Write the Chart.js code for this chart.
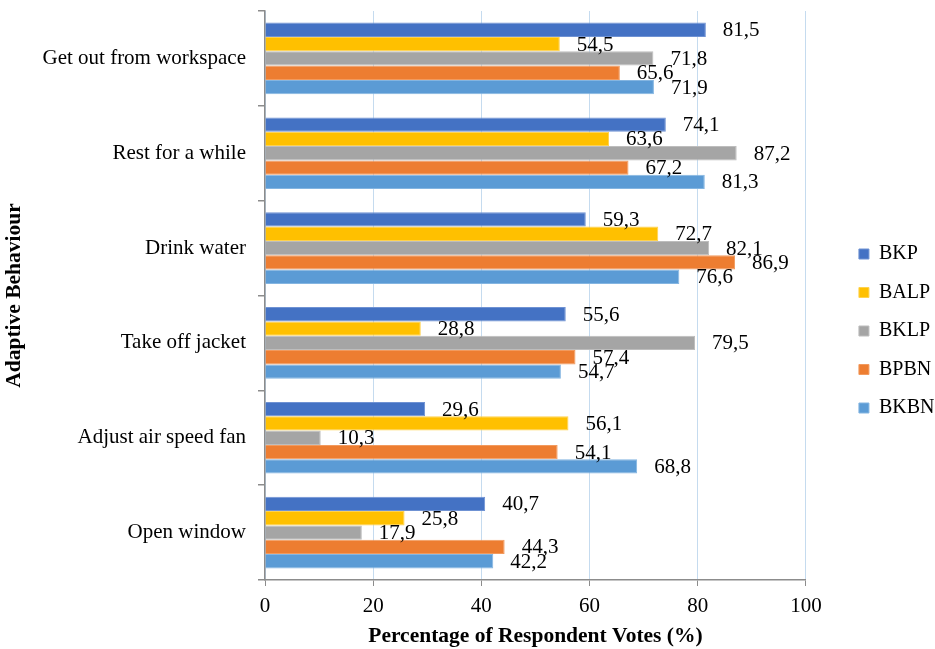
<!DOCTYPE html>
<html>
<head>
<meta charset="utf-8">
<script src="https://cdn.jsdelivr.net/npm/chart.js@4/dist/chart.umd.min.js"></script>
<style>
  html, body { margin: 0; padding: 0; background: #fff; }
  #wrap { width: 935px; height: 649px; position: relative; }
</style>
</head>
<body>
<div id="wrap"><canvas id="chart"></canvas></div>
<script>
// Adaptive behaviour categories (top to bottom)
const categories = [
  'Get out from workspace',
  'Rest for a while',
  'Drink water',
  'Take off jacket',
  'Adjust air speed fan',
  'Open window'
];

// Percentage of respondent votes per building
const seriesNames = ['BKP', 'BALP', 'BKLP', 'BPBN', 'BKBN'];
const bkp  = [81.5, 74.1, 59.3, 55.6, 29.6, 40.7];
const balp = [54.5, 63.6, 72.7, 28.8, 56.1, 25.8];
const bklp = [71.8, 87.2, 82.1, 79.5, 10.3, 17.9];
const bpbn = [65.6, 67.2, 86.9, 57.4, 54.1, 44.3];
const bkbn = [71.9, 81.3, 76.6, 54.7, 68.8, 42.2];

const xTicks = [0, 20, 40, 60, 80, 100];

const seriesValues = [bkp, balp, bklp, bpbn, bkbn];
const seriesColors = ['#4472C4', '#FFC000', '#A5A5A5', '#ED7D31', '#5B9BD5'];
const seriesEdges  = ['#6F92D3', '#FFD24D', '#BDBDBD', '#F29A5E', '#84B5E1'];

const FONT = "'Liberation Serif', 'Times New Roman', serif";
const FS = 21;

// Value labels written with a decimal comma, just past the end of each bar
const valueLabels = {
  id: 'valueLabels',
  afterDatasetsDraw(chart) {
    const ctx = chart.ctx;
    ctx.save();
    ctx.font = FS + 'px ' + FONT;
    ctx.fillStyle = '#000';
    ctx.textAlign = 'left';
    ctx.textBaseline = 'middle';
    chart.data.datasets.forEach((ds, di) => {
      const meta = chart.getDatasetMeta(di);
      meta.data.forEach((bar, i) => {
        const txt = ds.data[i].toFixed(1).replace('.', ',');
        ctx.fillText(txt, bar.x + 17, bar.y + 1);
      });
    });
    ctx.restore();
  }
};

// Leave a wider gap between the plot and the legend column
const legendGap = {
  id: 'legendGap',
  afterLayout(chart) {
    const lg = chart.legend;
    if (!lg) return;
    const dx = chart.chartArea.right + 53 - (lg.left + lg.options.labels.padding);
    lg.left += dx;
    lg.right += dx;
    lg.top += 1;
    lg.bottom += 1;
  }
};

const datasets = seriesNames.map((name, k) => ({
  label: name,
  data: seriesValues[k],
  backgroundColor: seriesColors[k],
  borderColor: seriesEdges[k],
  borderWidth: 1,
  categoryPercentage: 0.755,
  barPercentage: 1.0
}));

new Chart(document.getElementById('chart'), {
  type: 'bar',
  data: { labels: categories, datasets },
  plugins: [valueLabels, legendGap],
  options: {
    indexAxis: 'y',
    responsive: true,
    maintainAspectRatio: false,
    animation: false,
    layout: { padding: { top: 11, right: 25, bottom: 0, left: 0 } },
    plugins: {
      tooltip: { enabled: false },
      legend: {
        position: 'right',
        align: 'center',
        labels: {
          boxWidth: 10,
          boxHeight: 10,
          padding: 18.5,
          color: '#000',
          font: { family: FONT, size: 20 }
        }
      }
    },
    scales: {
      x: {
        type: 'linear',
        min: 0,
        max: 100,
        afterBuildTicks(scale) { scale.ticks = xTicks.map(v => ({ value: v })); },
        afterFit(scale) { scale.height = 69; },
        grid: {
          color: '#C5DBEF',
          lineWidth: 1,
          drawTicks: true,
          tickLength: 6,
          tickColor: '#8C8C8C'
        },
        border: { display: true, color: '#8C8C8C', width: 1.5 },
        ticks: {
          color: '#000',
          padding: 8,
          font: { family: FONT, size: FS }
        },
        title: {
          display: true,
          text: 'Percentage of Respondent Votes (%)',
          color: '#000',
          font: { family: FONT, size: 21.5, weight: 'bold' },
          padding: { top: 0, bottom: 0 }
        }
      },
      y: {
        type: 'category',
        offset: true,
        afterFit(scale) {
          scale.width = 265;
          scale.paddingTop = 0;
          scale.paddingBottom = 0;
        },
        grid: {
          offset: true,
          drawOnChartArea: false,
          drawTicks: true,
          tickLength: 7,
          tickColor: '#8C8C8C',
          lineWidth: 1.5
        },
        border: { display: true, color: '#8C8C8C', width: 1.5 },
        ticks: {
          color: '#000',
          padding: 12,
          font: { family: FONT, size: FS }
        },
        title: {
          display: true,
          text: 'Adaptive Behaviour',
          color: '#000',
          font: { family: FONT, size: 21.5, weight: 'bold' },
          padding: { top: 2, bottom: 0 }
        }
      }
    }
  }
});
</script>
</body>
</html>
